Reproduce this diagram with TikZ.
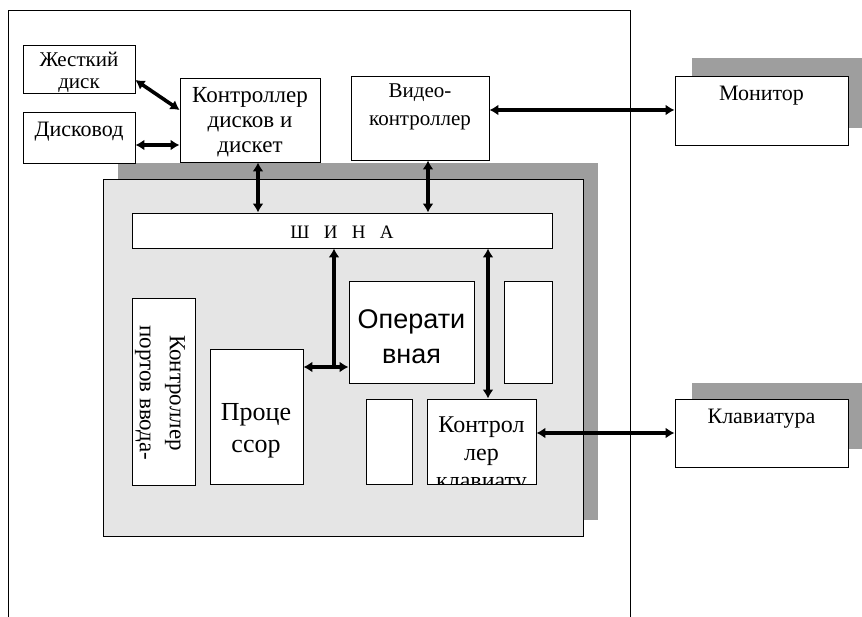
\documentclass[tikz,border=0pt]{standalone}
\usepackage{fontspec}
\setmainfont{Liberation Serif}
\newfontfamily\sansf{Liberation Sans}
\usetikzlibrary{arrows.meta,calc}
\tikzset{
  box/.style={draw=black, fill=white, line width=0.8pt, inner sep=0pt},
  shadowfill/.style={fill=black!38, draw=none},
  arr/.style={line width=3.6pt, {Latex[length=9pt,width=11pt]}-{Latex[length=9pt,width=11pt]}},
  arrtop/.style={line width=3.6pt, {Latex[length=9pt,width=11pt]}-},
  lbl/.style={font=\fontsize{21}{25}\selectfont, align=center, inner sep=0pt},
  biglbl/.style={font=\fontsize{26}{32}\selectfont, align=center, inner sep=0pt},
}
\begin{document}
\begin{tikzpicture}[x=1pt,y=-1pt]
\useasboundingbox (0,0) rectangle (862,617);
% outer frame (open at bottom)
\draw[line width=0.8pt] (8,617) -- (8,10) -- (630,10) -- (630,617);
% shadows
\fill[shadowfill] (118,163) rectangle (598,520);
\fill[shadowfill] (692,58) rectangle (864,128);
\fill[shadowfill] (692,383) rectangle (864,449);
% panel
\node[draw=black, fill=black!10, line width=0.8pt, minimum width=480, minimum height=357, inner sep=0pt] (panel) at (343,357.5) {};
% top boxes
\node[box, minimum width=112, minimum height=48] (hdd) at (79,69) {};
\node[lbl, font=\fontsize{21}{22}\selectfont] at (79,72) {Жесткий\\диск};
\node[box, minimum width=112, minimum height=51] (fdd) at (79,137.5) {};
\node[lbl, font=\fontsize{22}{25}\selectfont] at (79,132) {Дисковод};
\node[box, minimum width=140, minimum height=84] (dctl) at (250,120) {};
\node[lbl, font=\fontsize{23}{25}\selectfont] at (250,122) {Контроллер\\дисков и\\дискет};
\node[box, minimum width=138, minimum height=84] (vid) at (420,118) {};
\node[lbl, font=\fontsize{21}{28}\selectfont] at (420,107) {Видео-\\контроллер};
\node[box, minimum width=173, minimum height=69] (mon) at (761.5,110.5) {};
\node[lbl, font=\fontsize{22}{25}\selectfont] at (761.5,96) {Монитор};
\node[box, minimum width=173, minimum height=68] (kbd) at (761.5,433) {};
\node[lbl, font=\fontsize{22}{25}\selectfont] at (761.5,419) {Клавиатура};
% inner boxes
\node[box, minimum width=420, minimum height=35] (bus) at (342,230.5) {};
\node[lbl, font=\fontsize{19}{20}\selectfont] at (342,232) {Ш\hspace{0.75em}И\hspace{0.75em}Н\hspace{0.75em}А};
\node[box, minimum width=63, minimum height=187] (ports) at (163.5,391.5) {};
\node[lbl, font=\fontsize{23}{30}\selectfont, rotate=-90] at (160,393) {Контроллер\\портов ввода-};
\node[box, minimum width=93, minimum height=135] (cpu) at (256.5,416.5) {};
\node[biglbl] at (256,431) {Проце\\ссор};
\node[box, minimum width=125, minimum height=102] (ram) at (411.5,332) {};
\node[biglbl, font=\sansf\fontsize{27}{35}\selectfont] at (411.5,337) {Операти\\вная};
\node[box, minimum width=48, minimum height=102] (sma) at (528,332) {};
\node[box, minimum width=46, minimum height=85] (smb) at (389,441.5) {};
\node[box, minimum width=109, minimum height=85] (kbc) at (481.5,441.5) {};
\begin{scope}
\clip (427,399) rectangle (536,484);
\node[lbl, font=\fontsize{24}{28}\selectfont] at (481.5,455) {Контрол\\лер\\клавиату};
\end{scope}
\draw[line width=0.8pt] (427,399) rectangle (536,484);
% connectors
\draw[arr] (hdd.east |- 0,80) -- (dctl.west |- 0,110);
\draw[arr] (fdd.east |- 0,145) -- (dctl.west |- 0,145);
\draw[arr] (dctl.south -| 258,0) -- (bus.north -| 258,0);
\draw[arr] (vid.south -| 428,0) -- (bus.north -| 428,0);
\draw[arr] (vid.east |- 0,110) -- (mon.west |- 0,110);
\coordinate (jn) at (334,367);
\draw[arrtop] (bus.south -| jn) -- (jn);
\draw[arr] (cpu.east |- jn) -- (ram.west |- jn);
\draw[arr] (bus.south -| 488,0) -- (kbc.north -| 488,0);
\draw[arr] (kbc.east |- 0,433) -- (kbd.west |- 0,433);
\end{tikzpicture}
\end{document}
